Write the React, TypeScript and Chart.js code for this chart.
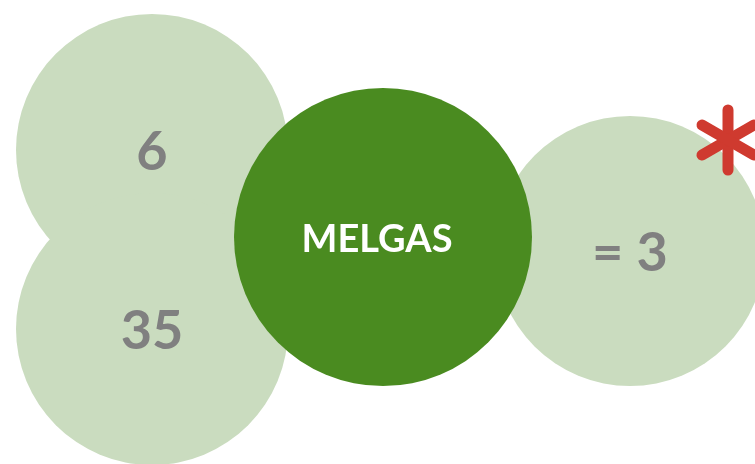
import React, { useEffect, useRef } from "react";
import { Chart, registerables } from "chart.js";

Chart.register(...registerables);

// Bubble data (drawn in this order; the dark "MELGAS" bubble last, on top)
const bubbleLabels = ["6", "35", "= 3", "MELGAS"];
const bubbleX = [152, 152, 630, 383];
const bubbleY = [150, 329, 251, 237];
const bubbleR = [136, 136, 135, 149];
const bubbleColors = ["#cadcbf", "#cadcbf", "#cadcbf", "#4a8b20"];
const labelColors = ["#808080", "#808080", "#808080", "#ffffff"];
const labelFonts = ["bold 54px Lato", "bold 54px Lato", "bold 54px Lato", "bold 38px Lato"];
const labelShiftX = [0, 0, 0, -6];

// Asterisk marker
const markX = [728];
const markY = [140];
const markColor = "#cf3a2f";

function makeAsterisk(): HTMLCanvasElement {
  const c = document.createElement("canvas");
  c.width = 84;
  c.height = 84;
  const ctx = c.getContext("2d")!;
  ctx.strokeStyle = markColor;
  ctx.lineWidth = 11;
  ctx.lineCap = "round";
  const cx = 42, cy = 42, len = 30;
  for (let k = 0; k < 3; k++) {
    const a = Math.PI / 2 + (k * Math.PI) / 3;
    ctx.beginPath();
    ctx.moveTo(cx - Math.cos(a) * len, cy - Math.sin(a) * len);
    ctx.lineTo(cx + Math.cos(a) * len, cy + Math.sin(a) * len);
    ctx.stroke();
  }
  return c;
}

const labelPlugin = {
  id: "bubbleLabels",
  afterDatasetsDraw(chart: any) {
    const meta = chart.getDatasetMeta(1);
    const ctx = chart.ctx;
    ctx.save();
    ctx.textAlign = "center";
    ctx.textBaseline = "middle";
    meta.data.forEach((el: any, i: number) => {
      ctx.font = labelFonts[i];
      ctx.fillStyle = labelColors[i];
      ctx.fillText(bubbleLabels[i], el.x + labelShiftX[i], el.y + 3);
    });
    ctx.restore();
  },
};

export default function App() {
  const ref = useRef<HTMLCanvasElement>(null);
  useEffect(() => {
    document.body.style.margin = "0";
    let chart: Chart | null = null;
    let cancelled = false;
    const build = () => {
      if (cancelled || !ref.current) return;
      chart = new Chart(ref.current, {
        type: "bubble",
        data: {
          datasets: [
            {
              label: "mark",
              data: markX.map((x, i) => ({ x, y: markY[i], r: 35 })),
              pointStyle: makeAsterisk() as any,
              backgroundColor: markColor,
              borderWidth: 0,
              clip: false,
              order: 0,
            },
            {
              label: "bubbles",
              data: bubbleX.map((x, i) => ({ x, y: bubbleY[i], r: bubbleR[i] })),
              backgroundColor: bubbleColors,
              borderWidth: 0,
              hoverBorderWidth: 0,
              clip: false,
              order: 1,
            },
          ],
        },
        options: {
          responsive: false,
          devicePixelRatio: 1,
          animation: false,
          layout: { padding: 0, autoPadding: false },
          plugins: { legend: { display: false }, tooltip: { enabled: false } },
          events: [],
          scales: {
            x: { type: "linear", min: 0, max: 755, display: false },
            y: { type: "linear", min: 0, max: 464, reverse: true, display: false },
          },
        },
        plugins: [labelPlugin],
      });
    };
    const fonts: any = (document as any).fonts;
    if (fonts && fonts.load) {
      Promise.all([fonts.load("bold 54px Lato"), fonts.load("bold 38px Lato")])
        .then(build, build);
    } else build();
    return () => {
      cancelled = true;
      if (chart) chart.destroy();
    };
  }, []);
  return (
    <div style={{ width: 755, height: 464, background: "#ffffff" }}>
      <canvas ref={ref} width={755} height={464} style={{ display: "block" }} />
    </div>
  );
}
